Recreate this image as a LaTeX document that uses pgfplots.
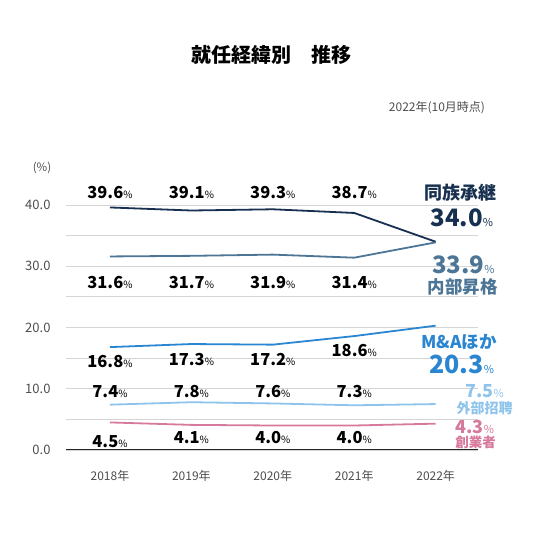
\documentclass[border=0pt]{standalone}
\usepackage{fontspec}
\setmainfont{Noto Sans CJK JP}
\usepackage{pgfplots}
\pgfplotsset{compat=1.18}

\definecolor{cDozoku}{HTML}{17304F}
\definecolor{cNaibu}{HTML}{4D7596}
\definecolor{cMA}{HTML}{2A86D1}
\definecolor{cGaibu}{HTML}{8EC4EC}
\definecolor{cSogyo}{HTML}{D6799C}
\definecolor{cGrid}{HTML}{D4D4D4}
\definecolor{cTick}{HTML}{4D4D4D}

% value label: bold number, small regular percent sign
\newcommand{\val}[1]{{\bfseries\fontsize{16.5}{16.5}\selectfont #1}{\fontsize{10}{10}\selectfont\%}}
\newcommand{\bigval}[2]{{\bfseries\fontsize{#2}{#2}\selectfont #1}{\fontsize{11}{11}\selectfont\%}}

\begin{document}
\begin{tikzpicture}
\path[use as bounding box] (0,0) rectangle (543pt,560pt);

\node[font=\bfseries\fontsize{20}{20}\selectfont] at (271pt,505pt) {就任経緯別　推移};
\node[font=\fontsize{12}{12}\selectfont, text=cTick] at (437pt,452pt) {2022年(10月時点)};
\node[font=\fontsize{11.5}{11.5}\selectfont, text=cTick] at (42pt,392pt) {(\%)};

\begin{axis}[
  at={(66pt,110pt)}, anchor=south west,
  scale only axis, width=412pt, height=245pt,
  xmin=-0.54, xmax=4.52, ymin=0, ymax=40,
  clip=false,
  axis line style={draw=none},
  major tick length=0pt, minor tick length=0pt,
  xtick={0,1,2,3,4},
  xticklabels={2018年,2019年,2020年,2021年,2022年},
  x tick label style={font=\fontsize{12}{12}\selectfont, text=cTick, yshift=-17pt},
  ytick={0,10,20,30,40},
  minor ytick={5,15,25,35},
  ymajorgrids, yminorgrids,
  grid style={cGrid, line width=0.8pt},
  minor grid style={cGrid, line width=0.8pt},
  /pgf/number format/assume math mode=true,
  yticklabel={\pgfmathprintnumber[fixed,fixed zerofill,precision=1]{\tick}},
  y tick label style={font=\fontsize{13}{13}\selectfont, text=cTick, xshift=-12pt},
  every axis plot/.append style={line width=1.8pt, no markers},
]
\addplot[cDozoku] coordinates {(0,39.6) (1,39.1) (2,39.3) (3,38.7) (4,34.0)};
\addplot[cNaibu] coordinates {(0,31.6) (1,31.7) (2,31.9) (3,31.4) (4,33.9)};
\addplot[cMA] coordinates {(0,16.8) (1,17.3) (2,17.2) (3,18.6) (4,20.3)};
\addplot[cGaibu] coordinates {(0,7.4) (1,7.8) (2,7.6) (3,7.3) (4,7.5)};
\addplot[cSogyo] coordinates {(0,4.5) (1,4.1) (2,4.0) (3,4.0) (4,4.3)};

\draw[black!85, line width=1pt] (axis cs:-0.54,0) -- (axis cs:4.52,0);

% value labels
\node at (axis cs:0,42.1) {\val{39.6}};
\node at (axis cs:1,42.1) {\val{39.1}};
\node at (axis cs:2,42.1) {\val{39.3}};
\node at (axis cs:3,42.1) {\val{38.7}};

\node at (axis cs:0,27.4) {\val{31.6}};
\node at (axis cs:1,27.4) {\val{31.7}};
\node at (axis cs:2,27.4) {\val{31.9}};
\node at (axis cs:3,27.4) {\val{31.4}};

\node at (axis cs:0,14.4) {\val{16.8}};
\node at (axis cs:1,14.8) {\val{17.3}};
\node at (axis cs:2,14.7) {\val{17.2}};
\node at (axis cs:3,16.2) {\val{18.6}};

\node at (axis cs:0,9.6) {\val{7.4}};
\node at (axis cs:1,9.6) {\val{7.8}};
\node at (axis cs:2,9.6) {\val{7.6}};
\node at (axis cs:3,9.6) {\val{7.3}};

\node at (axis cs:0,1.3) {\val{4.5}};
\node at (axis cs:1,2.0) {\val{4.1}};
\node at (axis cs:2,2.0) {\val{4.0}};
\node at (axis cs:3,2.0) {\val{4.0}};

% series names and 2022 values
\node[text=cDozoku, font=\bfseries\fontsize{18}{18}\selectfont] at (axis cs:4.31,41.96) {同族承継};
\node[text=cDozoku] at (axis cs:4.32,37.9) {\bigval{34.0}{24}};
\node[text=cNaibu] at (axis cs:4.34,30.2) {\bigval{33.9}{24}};
\node[text=cNaibu, font=\bfseries\fontsize{17.5}{17.5}\selectfont] at (axis cs:4.33,26.6) {内部昇格};
\node[text=cMA, font=\bfseries\fontsize{17.5}{17.5}\selectfont] at (axis cs:4.29,17.6) {M\&Aほか};
\node[text=cMA] at (axis cs:4.32,13.9) {\bigval{20.3}{25}};
\node[text=cGaibu] at (axis cs:4.60,9.6) {\bigval{7.5}{18}};
\node[text=cGaibu, font=\bfseries\fontsize{14}{14}\selectfont] at (axis cs:4.60,6.9) {外部招聘};
\node[text=cSogyo] at (axis cs:4.48,3.75) {\bigval{4.3}{18}};
\node[text=cSogyo, font=\bfseries\fontsize{13.5}{13.5}\selectfont] at (axis cs:4.49,1.3) {創業者};
\end{axis}
\end{tikzpicture}
\end{document}
